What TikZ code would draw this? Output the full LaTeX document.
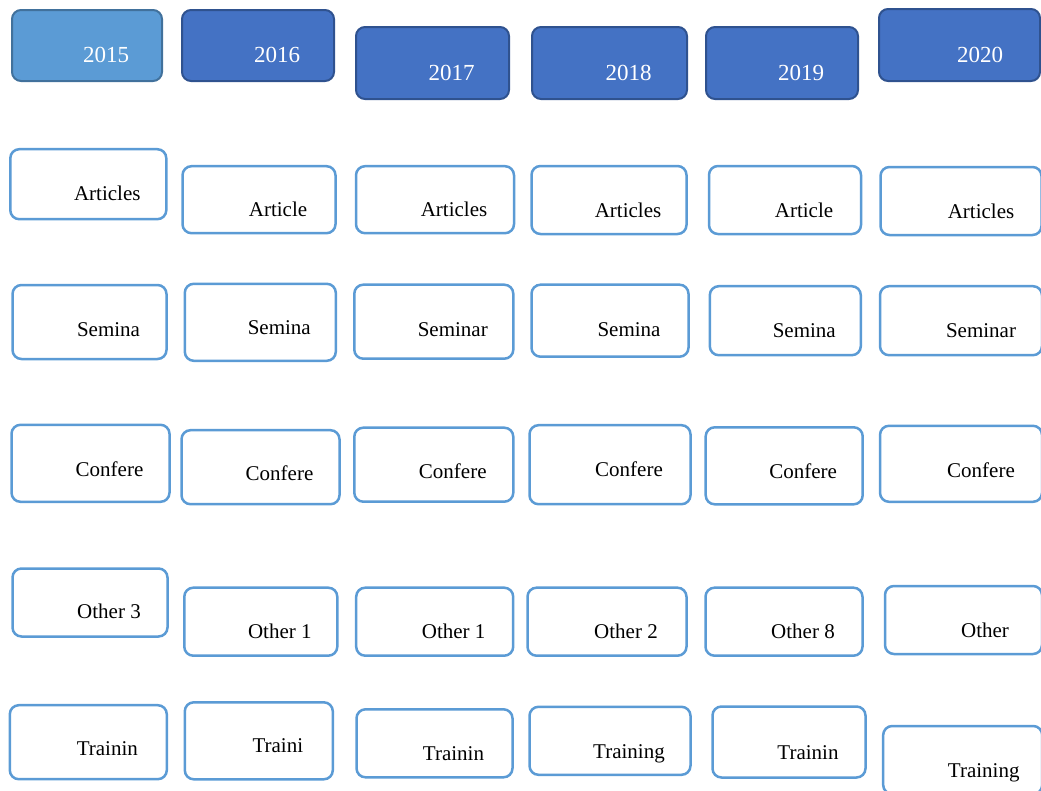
\documentclass[tikz,border=0pt]{standalone}
\usepackage{fontspec}
\setmainfont{Liberation Serif}
\usetikzlibrary{positioning}
\definecolor{CellBlue}{HTML}{5B9BD5}
\definecolor{CellEdge}{HTML}{41719C}
\definecolor{YearBlue}{HTML}{4472C4}
\definecolor{YearEdge}{HTML}{2F528F}

\begin{document}
\begin{tikzpicture}[
		x=1pt,y=-1pt,
		box/.style={rectangle,rounded corners=9pt,inner sep=0pt},
		year/.style={box,fill=YearBlue,draw=YearEdge,line width=2pt},
		cell/.style={box,draw=CellBlue,line width=2.5pt,fill=white},
		lbl/.style={inner sep=0pt,text height=14pt,text depth=0pt,xshift=19pt,font=\fontsize{21}{24}\selectfont},
		ylbl/.style={inner sep=0pt,text height=15.5pt,text depth=0pt,xshift=19pt,yshift=-9.5pt,text=white,font=\fontsize{23}{26}\selectfont},
	]
	\useasboundingbox (0,0) rectangle (1041,790);
	\clip (0,0) rectangle (1041,790);

	\node (y2015) [year,fill=CellBlue,draw=CellEdge,minimum width=150pt,minimum height=71pt,label={[ylbl]center:2015}] at (87,45.5) {};
	\node (y2016) [year,minimum width=152pt,minimum height=71pt,label={[ylbl]center:2016}] at (258,45.5) {};
	\node (y2017) [year,minimum width=153pt,minimum height=72pt,label={[ylbl]center:2017}] at (432.5,63) {};
	\node (y2018) [year,minimum width=155pt,minimum height=72pt,label={[ylbl]center:2018}] at (609.5,63) {};
	\node (y2019) [year,minimum width=152pt,minimum height=72pt,label={[ylbl]center:2019}] at (782,63) {};
	\node (y2020) [year,minimum width=161pt,minimum height=72pt,label={[ylbl,xshift=1.5pt]center:2020}] at (959.5,45) {};

	\node (art1) [cell,minimum width=156pt,minimum height=70pt,label={[lbl,yshift=-9pt]center:Articles}] at (88.3,184.2) {};
	\node (art2) [cell,minimum width=153pt,minimum height=67pt,label={[lbl,yshift=-10pt]center:Article}] at (259,199.7) {};
	\node (art3) [cell,minimum width=158pt,minimum height=67pt,label={[lbl,yshift=-10pt]center:Articles}] at (435,199.7) {};
	\node (art4) [cell,minimum width=155pt,minimum height=68pt,label={[lbl,yshift=-10pt]center:Articles}] at (609,200) {};
	\node (art5) [cell,minimum width=152pt,minimum height=68pt,label={[lbl,yshift=-10pt]center:Article}] at (785,200) {};
	\node (art6) [cell,minimum width=161pt,minimum height=68pt,label={[lbl,xshift=1pt,yshift=-10pt]center:Articles}] at (961,201) {};

	\node (sem1) [cell,minimum width=154pt,minimum height=74pt,label={[lbl,yshift=-7.5pt]center:Semina}] at (89.5,322) {};
	\node (sem2) [cell,minimum width=151pt,minimum height=77pt,label={[lbl,yshift=-5pt]center:Semina}] at (260.3,322.3) {};
	\node (sem3) [cell,minimum width=159pt,minimum height=74pt,label={[lbl,yshift=-8pt]center:Seminar}] at (433.8,321.7) {};
	\node (sem4) [cell,minimum width=157pt,minimum height=72pt,label={[lbl,yshift=-9pt]center:Semina}] at (610,320.7) {};
	\node (sem5) [cell,minimum width=151pt,minimum height=69pt,label={[lbl,yshift=-9.5pt]center:Semina}] at (785.3,320.7) {};
	\node (sem6) [cell,minimum width=162pt,minimum height=69pt,label={[lbl,xshift=1pt,yshift=-9.5pt]center:Seminar}] at (961,320.7) {};

	\node (conf1) [cell,minimum width=158pt,minimum height=77pt,label={[lbl,yshift=-6pt]center:Confere}] at (90.5,463.3) {};
	\node (conf2) [cell,minimum width=158pt,minimum height=74pt,label={[lbl,yshift=-6.5pt]center:Confere}] at (260.5,467.2) {};
	\node (conf3) [cell,minimum width=159pt,minimum height=74pt,label={[lbl,yshift=-7pt]center:Confere}] at (433.8,464.7) {};
	\node (conf4) [cell,minimum width=161pt,minimum height=79pt,label={[lbl,yshift=-5pt]center:Confere}] at (610,464.7) {};
	\node (conf5) [cell,minimum width=157pt,minimum height=77pt,label={[lbl,yshift=-6pt]center:Confere}] at (784.2,465.8) {};
	\node (conf6) [cell,minimum width=162pt,minimum height=76pt,label={[lbl,xshift=1pt,yshift=-6.5pt]center:Confere}] at (961,463.8) {};

	\node (oth1) [cell,minimum width=155pt,minimum height=68pt,label={[lbl,yshift=-9pt]center:Other 3}] at (90,602.5) {};
	\node (oth2) [cell,minimum width=153pt,minimum height=68pt,label={[lbl,yshift=-9.5pt]center:Other 1}] at (260.8,621.7) {};
	\node (oth3) [cell,minimum width=157pt,minimum height=68pt,label={[lbl,yshift=-9.5pt]center:Other 1}] at (434.7,621.7) {};
	\node (oth4) [cell,minimum width=159pt,minimum height=68pt,label={[lbl,yshift=-9.5pt]center:Other 2}] at (607,621.7) {};
	\node (oth5) [cell,minimum width=157pt,minimum height=68pt,label={[lbl,yshift=-9.5pt]center:Other 8}] at (784,621.7) {};
	\node (oth6) [cell,minimum width=157pt,minimum height=68pt,label={[lbl,xshift=2.5pt,yshift=-10pt]center:Other}] at (963.5,620) {};

	\node (trn1) [cell,minimum width=157pt,minimum height=74pt,label={[lbl,yshift=-6pt]center:Trainin}] at (88.3,742.2) {};
	\node (trn2) [cell,minimum width=148pt,minimum height=77pt,label={[lbl,yshift=-5pt]center:Traini}] at (258.8,740.8) {};
	\node (trn3) [cell,minimum width=156pt,minimum height=68pt,label={[lbl,yshift=-10pt]center:Trainin}] at (434.5,743.3) {};
	\node (trn4) [cell,minimum width=161pt,minimum height=68pt,label={[lbl,yshift=-11pt]center:Training}] at (610,740.8) {};
	\node (trn5) [cell,minimum width=153pt,minimum height=71pt,label={[lbl,yshift=-10pt]center:Trainin}] at (789,742) {};
	\node (trn6) [cell,minimum width=159pt,minimum height=68pt,label={[lbl,xshift=2pt,yshift=-10pt]center:Training}] at (962.7,760) {};
\end{tikzpicture}
\end{document}
